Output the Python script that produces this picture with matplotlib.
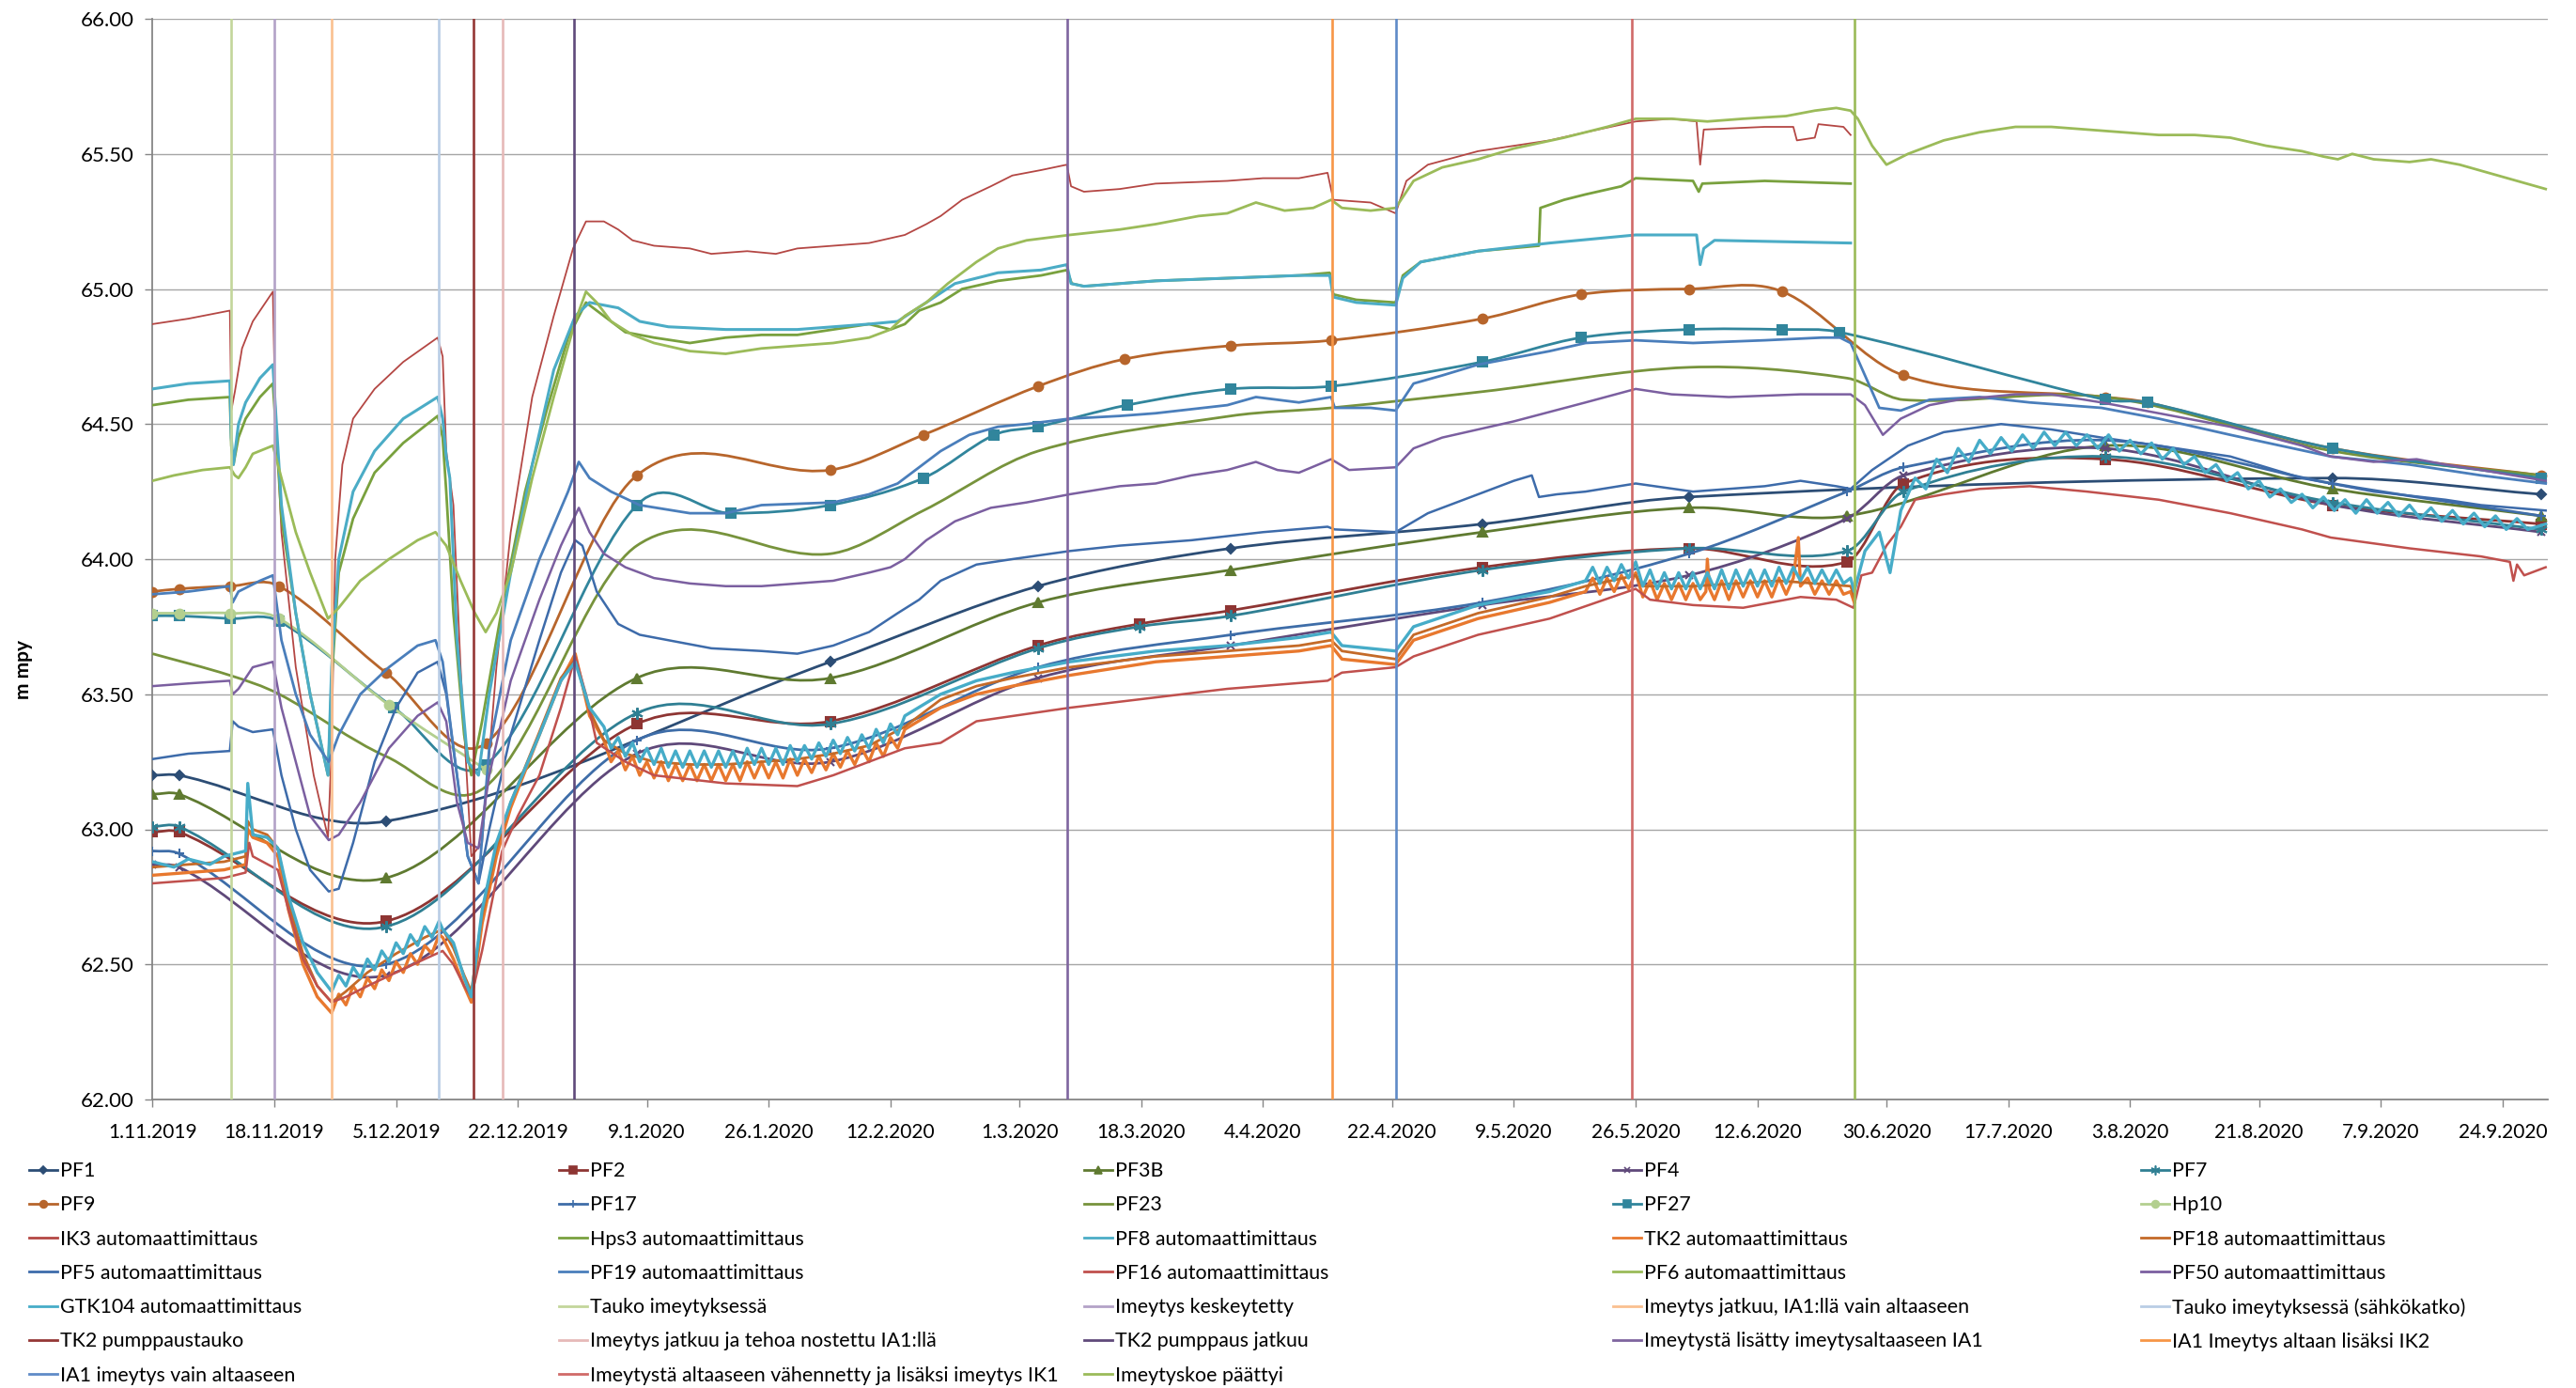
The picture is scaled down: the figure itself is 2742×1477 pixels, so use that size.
import numpy as np
import matplotlib
matplotlib.use('Agg')
import matplotlib.pyplot as plt
import matplotlib.dates as mdates
from matplotlib.path import Path
from matplotlib.patches import PathPatch
from matplotlib.lines import Line2D
from matplotlib.ticker import FuncFormatter
from datetime import datetime, timedelta

plt.rcParams['font.family'] = ['Lato', 'DejaVu Sans']

START = datetime(2019, 11, 1)

# ---------------- manual measurement series (day offset from 1.11.2019, m mpy) --------
PF1_DAYS = [0, 3.7, 32.6, 94.6, 123.6, 150.5, 185.6, 214.4, 304.3, 333.4]
PF1_VALS = [63.20, 63.20, 63.03, 63.62, 63.90, 64.04, 64.13, 64.23, 64.30, 64.24]

PF2_DAYS = [0, 3.7, 32.6, 67.6, 94.6, 123.6, 137.7, 150.5, 185.6, 214.4, 236.5, 244.4, 272.5, 304.3, 333.4]
PF2_VALS = [62.99, 62.99, 62.66, 63.39, 63.40, 63.68, 63.76, 63.81, 63.97, 64.04, 63.99, 64.28, 64.37, 64.20, 64.13]

PF3B_DAYS = [0, 3.7, 32.6, 67.6, 94.6, 123.6, 150.5, 185.6, 214.4, 236.5, 272.5, 304.3, 333.4]
PF3B_VALS = [63.13, 63.13, 62.82, 63.56, 63.56, 63.84, 63.96, 64.10, 64.19, 64.16, 64.42, 64.26, 64.16]

PF4_DAYS = [0, 3.7, 32.6, 67.6, 94.6, 123.6, 150.5, 185.6, 214.4, 236.5, 244.4, 272.5, 304.3, 333.4]
PF4_VALS = [62.87, 62.86, 62.46, 63.28, 63.25, 63.56, 63.68, 63.83, 63.94, 64.15, 64.31, 64.41, 64.20, 64.10]

PF7_DAYS = [0, 3.7, 32.6, 67.6, 94.6, 123.6, 137.7, 150.5, 185.6, 214.4, 236.5, 244.4, 272.5, 304.3, 333.4]
PF7_VALS = [63.01, 63.01, 62.64, 63.43, 63.39, 63.67, 63.75, 63.79, 63.96, 64.04, 64.03, 64.25, 64.38, 64.21, 64.11]

PF9_DAYS = [0, 3.7, 10.8, 17.7, 32.6, 46.6, 67.6, 94.6, 107.6, 123.6, 135.6, 150.5, 164.5, 185.6, 199.4,
            214.4, 227.5, 244.4, 272.5, 278.4, 304.3, 333.4]
PF9_VALS = [63.88, 63.89, 63.90, 63.90, 63.58, 63.32, 64.31, 64.33, 64.46, 64.64, 64.74, 64.79, 64.81, 64.89, 64.98,
            65.00, 64.99, 64.68, 64.60, 64.58, 64.41, 64.31]

PF17_DAYS = [0, 3.7, 32.6, 67.6, 94.6, 123.6, 150.5, 185.6, 214.4, 236.5, 244.4, 272.5, 304.3, 333.4]
PF17_VALS = [62.92, 62.91, 62.50, 63.33, 63.30, 63.60, 63.72, 63.84, 64.02, 64.25, 64.34, 64.44, 64.28, 64.16]

PF23_DAYS = [0, 10.8, 17.7, 32.6, 46.6, 67.6, 94.6, 107.6, 123.6, 150.5, 164.5, 185.6, 214.4, 236.5,
             244.4, 272.5, 304.3, 333.4]
PF23_VALS = [63.65, 63.57, 63.50, 63.27, 63.16, 64.05, 64.02, 64.18, 64.40, 64.53, 64.56, 64.62, 64.71, 64.67,
             64.59, 64.60, 64.40, 64.31]

PF27_DAYS = [0, 3.7, 10.8, 17.7, 33.7, 46.6, 67.6, 80.7, 94.6, 107.6, 117.5, 123.6, 136.0, 150.5, 164.5,
             185.6, 199.4, 214.4, 227.5, 235.5, 272.5, 278.4, 304.3, 333.4]
PF27_VALS = [63.79, 63.79, 63.78, 63.77, 63.45, 63.24, 64.20, 64.17, 64.20, 64.30, 64.46, 64.49, 64.57, 64.63, 64.64,
             64.73, 64.82, 64.85, 64.85, 64.84, 64.59, 64.58, 64.41, 64.30]

HP10_DAYS = [0, 3.7, 10.8, 17.7, 33.0, 46.6]
HP10_VALS = [63.80, 63.80, 63.80, 63.78, 63.46, 63.22]

# ---------------- automatic logger series ----------------
IK3_DAYS = [0, 5, 10.8, 11.0, 11.5, 12.5, 14, 16.8, 17.1, 18, 20, 22.5, 24.5, 25.0, 25.5, 26.5, 28, 31, 35,
            39.8, 40.5, 41, 42, 43, 44.5, 46, 48, 50, 53, 56, 58.7, 60.5, 63, 65, 67, 70, 75, 78, 83, 87, 90,
            95, 100, 105, 108, 110, 113, 117, 120, 124, 127.6, 128.2, 130, 135, 140, 150, 155, 160, 164, 164.8,
            170, 173.5, 175, 178, 185, 195, 200, 207, 212, 215.5, 216, 216.5, 225, 229, 229.5, 232, 232.5, 236, 237]
IK3_VALS = [64.87, 64.89, 64.92, 64.55, 64.62, 64.78, 64.88, 64.99, 64.60, 64.10, 63.60, 63.20, 62.97, 63.30, 64.00,
            64.35, 64.52, 64.63, 64.73, 64.82, 64.75, 64.40, 64.20, 63.60, 62.90, 62.95, 63.60, 64.10, 64.60,
            64.90, 65.15, 65.25, 65.25, 65.22, 65.18, 65.16, 65.15, 65.13, 65.14, 65.13, 65.15, 65.16, 65.17,
            65.20, 65.24, 65.27, 65.33, 65.38, 65.42, 65.44, 65.46, 65.38, 65.36, 65.37, 65.39, 65.40, 65.41,
            65.41, 65.43, 65.33, 65.32, 65.28, 65.40, 65.46, 65.51, 65.55, 65.58, 65.62, 65.63, 65.62, 65.46,
            65.59, 65.60, 65.60, 65.55, 65.56, 65.61, 65.60, 65.57]

HPS3_DAYS = [0, 5, 10.8, 11.0, 11.3, 12, 13, 15, 16.8, 17.3, 18, 20, 22, 24.5, 25, 26, 28, 31, 35, 39.8, 40.5,
             41, 42, 43.5, 44.5, 46, 49, 52, 55, 58, 60.5, 63, 66, 70, 75, 80, 85, 90, 95, 100, 103, 105, 107,
             110, 113, 118, 124, 127.6, 128.3, 130, 140, 150, 160, 164.3, 164.8, 168, 173.5, 174.5, 177, 185,
             193.5, 193.7, 197, 200, 205, 207, 215, 215.8, 216.3, 225, 237]
HPS3_VALS = [64.57, 64.59, 64.60, 64.42, 64.35, 64.45, 64.52, 64.60, 64.65, 64.45, 64.15, 63.80, 63.50, 63.20,
             63.55, 63.95, 64.15, 64.32, 64.43, 64.53, 64.45, 64.25, 63.80, 63.35, 63.20, 63.40, 63.85, 64.25,
             64.55, 64.82, 64.95, 64.90, 64.84, 64.82, 64.80, 64.82, 64.83, 64.83, 64.85, 64.87, 64.85, 64.87,
             64.92, 64.95, 65.00, 65.03, 65.05, 65.07, 65.02, 65.01, 65.03, 65.04, 65.05, 65.06, 64.98, 64.96,
             64.95, 65.05, 65.10, 65.14, 65.16, 65.30, 65.33, 65.35, 65.38, 65.41, 65.40, 65.36, 65.39, 65.40,
             65.39]

PF8_DAYS = [0, 5, 10.8, 11.0, 11.3, 12, 13, 15, 16.8, 17.3, 18, 20, 22, 24.5, 25, 26, 28, 31, 35, 39.8, 40.5,
            41, 41.5, 42.5, 44, 45.5, 47, 50, 53, 56, 59, 61, 65, 68, 72, 80, 90, 95, 100, 104, 108, 112, 118,
            124, 127.6, 128.2, 130, 140, 150, 160, 164.3, 164.8, 168, 173.5, 174.5, 177, 185, 195, 207, 215.5,
            216, 216.5, 218, 237]
PF8_VALS = [64.63, 64.65, 64.66, 64.45, 64.35, 64.50, 64.58, 64.67, 64.72, 64.50, 64.20, 63.80, 63.50, 63.20,
            63.60, 64.00, 64.25, 64.40, 64.52, 64.60, 64.52, 64.38, 64.30, 63.70, 63.25, 63.20, 63.50, 63.95,
            64.35, 64.70, 64.90, 64.95, 64.93, 64.88, 64.86, 64.85, 64.85, 64.86, 64.87, 64.88, 64.95, 65.02,
            65.06, 65.07, 65.09, 65.02, 65.01, 65.03, 65.04, 65.05, 65.05, 64.97, 64.95, 64.94, 65.04, 65.10,
            65.14, 65.17, 65.20, 65.20, 65.09, 65.15, 65.18, 65.17]

PF6_DAYS = [0, 3, 7, 10.8, 11.5, 12, 13, 14, 16.8, 18, 20, 22, 24.5, 26, 29, 33, 37, 39.5, 41, 43, 45, 46.5,
            48, 50, 53, 56, 59, 60.5, 62, 64, 67, 70, 75, 80, 85, 90, 95, 100, 103, 105, 108, 111, 115, 118,
            122, 128, 135, 140, 146, 150, 154, 158, 162, 164.5, 166, 170, 173.5, 176, 180, 185, 190, 197, 203,
            207, 212, 217, 222, 228, 232, 235, 237, 238, 240, 242, 245, 250, 255, 260, 265, 270, 275, 280, 285,
            290, 295, 300, 303, 305, 307, 310, 315, 318, 322, 326, 330, 334]
PF6_VALS = [64.29, 64.31, 64.33, 64.34, 64.31, 64.30, 64.34, 64.39, 64.42, 64.30, 64.10, 63.95, 63.78, 63.82,
            63.92, 64.00, 64.07, 64.10, 64.05, 63.92, 63.80, 63.73, 63.80, 63.95, 64.30, 64.60, 64.88, 64.99,
            64.95, 64.88, 64.83, 64.80, 64.77, 64.76, 64.78, 64.79, 64.80, 64.82, 64.85, 64.90, 64.95, 65.02,
            65.10, 65.15, 65.18, 65.20, 65.22, 65.24, 65.27, 65.28, 65.32, 65.29, 65.30, 65.33, 65.30, 65.29,
            65.30, 65.40, 65.45, 65.48, 65.52, 65.56, 65.60, 65.63, 65.63, 65.62, 65.63, 65.64, 65.66, 65.67,
            65.66, 65.63, 65.53, 65.46, 65.50, 65.55, 65.58, 65.60, 65.60, 65.59, 65.58, 65.57, 65.57, 65.56,
            65.53, 65.51, 65.49, 65.48, 65.50, 65.48, 65.47, 65.48, 65.46, 65.43, 65.40, 65.37]

PF19_DAYS = [0, 5, 10.8, 11.2, 12, 15, 16.8, 18, 20, 22, 24.6, 26, 29, 33, 37, 39.5, 40.5, 42, 44, 45.5, 47,
             50, 54, 58, 59.5, 61, 64, 68, 75, 80, 85, 95, 100, 104, 107, 110, 114, 118, 122, 128, 135, 140,
             150, 154, 160, 164.5, 165, 170, 173.5, 176, 180, 185, 195, 200, 207, 215, 225, 233, 235.5, 237,
             239, 241, 244, 248, 255, 262, 272, 280, 290, 304, 315, 325, 334]
PF19_VALS = [63.87, 63.88, 63.90, 63.84, 63.88, 63.92, 63.94, 63.70, 63.50, 63.35, 63.25, 63.35, 63.50, 63.60,
             63.68, 63.70, 63.62, 63.30, 62.90, 62.80, 63.30, 63.70, 64.00, 64.25, 64.36, 64.30, 64.25, 64.20,
             64.17, 64.17, 64.20, 64.21, 64.24, 64.28, 64.34, 64.40, 64.46, 64.49, 64.50, 64.52, 64.53, 64.54,
             64.57, 64.60, 64.58, 64.60, 64.56, 64.56, 64.55, 64.65, 64.68, 64.72, 64.77, 64.80, 64.81, 64.80,
             64.81, 64.82, 64.82, 64.80, 64.68, 64.56, 64.55, 64.59, 64.60, 64.58, 64.56, 64.52, 64.46, 64.38,
             64.35, 64.31, 64.28]

PF5_DAYS = [0, 5, 10.8, 11.2, 12, 14, 16.8, 18, 20, 22, 24.6, 26, 28, 31, 34, 37, 39.8, 41, 42.5, 44, 45.5,
            47, 50, 54, 57, 59, 60, 62, 65, 68, 72, 78, 85, 90, 95, 100, 104, 107, 110, 115, 120, 128, 135,
            145, 155, 164, 165, 173.5, 178, 185, 190, 192.5, 193.5, 196, 200, 207, 215, 225, 230, 235, 237,
            240, 245, 250, 258, 265, 272, 280, 290, 300, 304, 310, 320, 325, 334]
PF5_VALS = [63.26, 63.28, 63.29, 63.40, 63.38, 63.36, 63.37, 63.20, 63.00, 62.85, 62.77, 62.78, 62.95, 63.25,
            63.45, 63.58, 63.62, 63.50, 63.20, 62.90, 62.80, 63.00, 63.35, 63.70, 63.95, 64.07, 64.05, 63.88,
            63.76, 63.72, 63.70, 63.67, 63.66, 63.65, 63.68, 63.73, 63.80, 63.85, 63.92, 63.98, 64.00, 64.03,
            64.05, 64.07, 64.10, 64.12, 64.11, 64.10, 64.17, 64.24, 64.29, 64.31, 64.23, 64.24, 64.25, 64.28,
            64.25, 64.27, 64.29, 64.27, 64.26, 64.33, 64.42, 64.47, 64.50, 64.48, 64.45, 64.42, 64.38, 64.30,
            64.28, 64.25, 64.22, 64.20, 64.18]

PF50_DAYS = [0, 5, 10.8, 11.2, 12, 14, 16.8, 18, 20, 22, 24.6, 26, 29, 33, 37, 39.8, 41, 42.5, 44, 45.5, 47,
             50, 54, 57, 59.5, 61, 63, 66, 70, 75, 80, 85, 90, 95, 100, 103, 105, 108, 112, 117, 122, 128, 135,
             140, 145, 150, 154, 157, 160, 164.5, 167, 173.5, 176, 180, 190, 200, 207, 212, 220, 230, 237, 239,
             241.5, 244, 248, 252, 260, 265, 272, 280, 290, 300, 304, 310, 316, 320, 325, 334]
PF50_VALS = [63.53, 63.54, 63.55, 63.50, 63.52, 63.60, 63.62, 63.45, 63.25, 63.05, 62.96, 62.98, 63.10, 63.30,
             63.42, 63.47, 63.40, 63.10, 62.95, 62.93, 63.20, 63.55, 63.85, 64.05, 64.19, 64.10, 64.02, 63.97,
             63.93, 63.91, 63.90, 63.90, 63.91, 63.92, 63.95, 63.97, 64.00, 64.07, 64.14, 64.19, 64.21, 64.24,
             64.27, 64.28, 64.31, 64.33, 64.36, 64.33, 64.32, 64.37, 64.33, 64.34, 64.41, 64.45, 64.51, 64.58,
             64.63, 64.61, 64.60, 64.61, 64.61, 64.57, 64.46, 64.52, 64.57, 64.59, 64.61, 64.61, 64.58, 64.54,
             64.49, 64.42, 64.38, 64.36, 64.37, 64.35, 64.33, 64.29]

GTK104_DAYS = [0, 3, 5, 8, 10, 13, 13.3, 14, 16, 17.5, 19, 21, 23, 25,
               26, 27, 28, 29, 30, 31, 32, 33, 34, 35, 36, 37, 38, 39, 40, 40.5, 42, 43.5, 44.5, 46, 48,
               50, 54, 57, 59, 61,
               63, 64, 65, 66, 67, 68, 69, 70, 71, 72, 73, 74, 75, 76, 77, 78, 79, 80, 81, 82, 83, 84, 85, 86,
               87, 88, 89, 90, 91, 92, 93, 94, 95, 96, 97, 98, 99, 100, 101, 102, 103, 104, 105,
               110, 115, 120, 128, 140, 150, 160, 164.5, 166, 173.5, 176, 185, 195,
               200, 201, 202, 203, 204, 205, 206, 207, 208, 209, 210, 211, 212, 213, 214, 215, 216, 217, 218,
               219, 220, 221, 222, 223, 224, 225, 226, 227, 228, 229, 230, 231, 232, 233, 234, 235, 236, 237,
               237.5, 239, 241, 242.5, 244,
               246, 247.5, 249, 250.5, 252, 253.5, 255, 256.5, 258, 259.5, 261, 262.5, 264, 265.5, 267, 268.5,
               270, 271.5, 273, 274.5, 276, 277.5, 279, 280.5, 282, 283.5, 285, 286.5, 288, 289.5, 291, 292.5,
               294, 295.5, 297, 298.5, 300, 301.5, 303, 304.5, 306, 307.5, 309, 310.5, 312, 313.5, 315, 316.5,
               318, 319.5, 321, 322.5, 324, 325.5, 327, 328.5, 330, 331.5, 334]
GTK104_VALS = [62.88, 62.86, 62.89, 62.87, 62.90, 62.92, 63.17, 62.98, 62.97, 62.93, 62.75, 62.58, 62.47, 62.40,
               62.46, 62.42, 62.49, 62.45, 62.52, 62.48, 62.55, 62.51, 62.58, 62.54, 62.61, 62.57, 62.64, 62.60,
               62.66, 62.63, 62.58, 62.45, 62.38, 62.70, 62.95,
               63.10, 63.35, 63.55, 63.62, 63.45,
               63.38, 63.30, 63.34, 63.27, 63.32, 63.25, 63.30, 63.24, 63.30, 63.23, 63.29, 63.23, 63.29, 63.23,
               63.29, 63.23, 63.29, 63.23, 63.29, 63.23, 63.30, 63.24, 63.30, 63.24, 63.30, 63.24, 63.31, 63.25,
               63.31, 63.26, 63.32, 63.27, 63.33, 63.28, 63.34, 63.29, 63.35, 63.30, 63.37, 63.32, 63.39, 63.35,
               63.42,
               63.50, 63.55, 63.58, 63.62, 63.66, 63.68, 63.71, 63.73, 63.68, 63.66, 63.75, 63.83, 63.88,
               63.92, 63.97, 63.91, 63.97, 63.92, 63.98, 63.93, 63.99, 63.90, 63.96, 63.89, 63.95, 63.89, 63.95,
               63.89, 63.95, 63.89, 63.95, 63.89, 63.96, 63.89, 63.96, 63.90, 63.96, 63.90, 63.96, 63.90, 63.97,
               63.91, 63.97, 63.92, 63.97, 63.91, 63.96, 63.91, 63.96, 63.91, 63.93,
               63.88, 64.03, 64.10, 63.95, 64.18,
               64.30, 64.26, 64.37, 64.32, 64.41, 64.36, 64.44, 64.39, 64.45, 64.40, 64.46, 64.41, 64.47, 64.42,
               64.47, 64.42, 64.46, 64.41, 64.46, 64.40, 64.44, 64.39, 64.43, 64.37, 64.41, 64.35, 64.38, 64.32,
               64.35, 64.29, 64.32, 64.26, 64.29, 64.23, 64.26, 64.21, 64.24, 64.19, 64.23, 64.18, 64.22, 64.17,
               64.22, 64.17, 64.21, 64.16, 64.20, 64.15, 64.19, 64.14, 64.18, 64.13, 64.17, 64.12, 64.16, 64.11,
               64.15, 64.11, 64.13]

TK2_DAYS = [0, 10, 13, 13.3, 14, 16, 17.5, 19, 21, 23, 25,
            26, 27, 28, 29, 30, 31, 32, 33, 34, 35, 36, 37, 38, 39, 40, 40.5, 42, 43.5, 44.5, 46, 48, 50,
            54, 57, 59, 61,
            63, 64, 65, 66, 67, 68, 69, 70, 71, 72, 73, 74, 75, 76, 77, 78, 79, 80, 81, 82, 83, 84, 85, 86,
            87, 88, 89, 90, 91, 92, 93, 94, 95, 96, 97, 98, 99, 100, 101, 102, 103, 104, 105,
            110, 115, 120, 128, 140, 150, 160, 164.5, 166, 173.5, 176, 185, 195,
            200, 201, 202, 203, 204, 205, 206, 207, 208, 209, 210, 211, 212, 213, 214, 215, 216, 216.8, 217.0,
            217.3, 218, 219, 220, 221, 222, 223, 224, 225, 226, 227, 228, 229, 229.7, 230, 231, 232, 233, 234,
            235, 236, 237, 237.5]
TK2_VALS = [62.83, 62.85, 62.87, 63.00, 62.97, 62.95, 62.90, 62.70, 62.50, 62.38, 62.32,
            62.39, 62.35, 62.42, 62.38, 62.45, 62.41, 62.48, 62.44, 62.51, 62.47, 62.54, 62.50, 62.57, 62.54,
            62.61, 62.60, 62.52, 62.42, 62.36, 62.65, 62.90, 63.08,
            63.35, 63.55, 63.65, 63.42,
            63.33, 63.25, 63.29, 63.22, 63.27, 63.20, 63.25, 63.19, 63.25, 63.18, 63.24, 63.18, 63.24, 63.18,
            63.24, 63.18, 63.24, 63.18, 63.24, 63.18, 63.25, 63.19, 63.25, 63.19, 63.25, 63.19, 63.26, 63.20,
            63.26, 63.21, 63.27, 63.22, 63.28, 63.23, 63.29, 63.24, 63.30, 63.25, 63.32, 63.27, 63.34, 63.30,
            63.37,
            63.45, 63.50, 63.53, 63.57, 63.62, 63.64, 63.66, 63.68, 63.63, 63.61, 63.70, 63.78, 63.84,
            63.88, 63.93, 63.87, 63.93, 63.88, 63.94, 63.89, 63.95, 63.86, 63.92, 63.85, 63.91, 63.85, 63.91,
            63.85, 63.91, 63.85, 63.88, 64.00, 63.89, 63.85, 63.92, 63.85, 63.92, 63.86, 63.92, 63.86, 63.92,
            63.86, 63.93, 63.87, 63.93, 64.08, 63.90, 63.93, 63.87, 63.92, 63.87, 63.92, 63.87, 63.88, 63.84]

PF18_DAYS = [0, 10, 13, 13.3, 14, 16, 17.5, 19, 21, 23, 25, 27, 30, 34, 38, 40.5, 42, 43.5, 44.5, 46, 48, 50,
             54, 57, 59, 61, 63, 66, 70, 75, 80, 85, 90, 95, 100, 105, 110, 115, 120, 128, 140, 150, 160, 164.5,
             166, 173.5, 176, 185, 195, 200, 207, 208, 215, 227, 237, 237.5]
PF18_VALS = [62.86, 62.88, 62.90, 63.03, 63.00, 62.98, 62.93, 62.73, 62.54, 62.42, 62.36, 62.40, 62.47, 62.54,
             62.60, 62.63, 62.56, 62.46, 62.40, 62.68, 62.93, 63.10, 63.36, 63.56, 63.63, 63.44, 63.33, 63.28,
             63.25, 63.24, 63.24, 63.25, 63.26, 63.28, 63.31, 63.38, 63.48, 63.53, 63.56, 63.60, 63.64, 63.66,
             63.68, 63.70, 63.66, 63.63, 63.72, 63.80, 63.86, 63.90, 63.94, 63.90, 63.90, 63.92, 63.90, 63.86]

PF16_DAYS = [0, 10, 13, 13.5, 14, 17.5, 19, 21, 23, 25, 27, 30, 34, 38, 40.5, 42, 43.5, 44.5, 46, 48.8, 51, 54,
             57, 59, 60.5, 62, 66, 70, 80, 90, 95, 100, 105, 110, 115, 128, 150, 164, 166, 173.5, 176, 185, 195,
             207, 209, 215, 222, 230, 235, 237.4, 238.5, 240, 242, 244, 246, 250, 255, 262, 270, 280, 290, 300,
             304, 315, 325, 329, 329.5, 330, 331, 334]
PF16_VALS = [62.80, 62.82, 62.84, 62.95, 62.90, 62.85, 62.70, 62.52, 62.42, 62.36, 62.38, 62.42, 62.47, 62.52,
             62.55, 62.50, 62.42, 62.38, 62.55, 62.92, 63.05, 63.20, 63.45, 63.64, 63.50, 63.32, 63.25, 63.20,
             63.17, 63.16, 63.20, 63.25, 63.30, 63.32, 63.40, 63.45, 63.52, 63.55, 63.58, 63.60, 63.64, 63.72,
             63.78, 63.89, 63.85, 63.83, 63.82, 63.86, 63.85, 63.82, 63.94, 63.95, 64.05, 64.12, 64.22, 64.24,
             64.26, 64.27, 64.25, 64.22, 64.17, 64.11, 64.08, 64.04, 64.01, 63.99, 63.92, 63.98, 63.94, 63.97]

# ---------------- event lines (day offset) ----------------
EVENT_NAMES = ["Tauko imeytyksessä", "Imeytys keskeytetty", "Imeytys jatkuu, IA1:llä vain altaaseen",
               "Tauko imeytyksessä (sähkökatko)", "TK2 pumppaustauko", "Imeytys jatkuu ja tehoa nostettu IA1:llä",
               "TK2 pumppaus jatkuu", "Imeytystä lisätty imeytysaltaaseen IA1", "IA1 Imeytys altaan lisäksi IK2",
               "IA1 imeytys vain altaaseen", "Imeytystä altaaseen vähennetty ja lisäksi imeytys IK1",
               "Imeytyskoe päättyi"]
EVENT_DAYS = [11.0, 17.0, 25.0, 39.9, 44.8, 48.9, 58.8, 127.7, 164.6, 173.5, 206.5, 237.5]

X_TICK_LABELS = ["1.11.2019", "18.11.2019", "5.12.2019", "22.12.2019", "9.1.2020", "26.1.2020", "12.2.2020",
                 "1.3.2020", "18.3.2020", "4.4.2020", "22.4.2020", "9.5.2020", "26.5.2020", "12.6.2020",
                 "30.6.2020", "17.7.2020", "3.8.2020", "21.8.2020", "7.9.2020", "24.9.2020"]
Y_TICKS = [62.0, 62.5, 63.0, 63.5, 64.0, 64.5, 65.0, 65.5, 66.0]

# ---------------- styles ----------------
MANUAL = [  # name, days, vals, color, marker, msize
    ("PF1", PF1_DAYS, PF1_VALS, '#2C4D75', 'D', 5),
    ("PF2", PF2_DAYS, PF2_VALS, '#8E3533', 's', 7),
    ("PF3B", PF3B_DAYS, PF3B_VALS, '#5F7A30', '^', 7),
    ("PF4", PF4_DAYS, PF4_VALS, '#5F497A', 'x', 6),
    ("PF7", PF7_DAYS, PF7_VALS, '#2F7F93', (6, 2, 0), 9),
    ("PF9", PF9_DAYS, PF9_VALS, '#B7652B', 'o', 7),
    ("PF17", PF17_DAYS, PF17_VALS, '#3E6DA8', '+', 7),
    ("PF23", PF23_DAYS, PF23_VALS, '#77933C', None, 0),
    ("PF27", PF27_DAYS, PF27_VALS, '#31859C', 's', 7),
    ("Hp10", HP10_DAYS, HP10_VALS, '#B3CF8F', 'o', 7),
]
AUTO = [  # name, days, vals, color, lw
    ("IK3 automaattimittaus", IK3_DAYS, IK3_VALS, '#B44744', 1.3),
    ("Hps3 automaattimittaus", HPS3_DAYS, HPS3_VALS, '#79A13E', 2.0),
    ("PF8 automaattimittaus", PF8_DAYS, PF8_VALS, '#4BACC6', 2.2),
    ("TK2 automaattimittaus", TK2_DAYS, TK2_VALS, '#E8782E', 2.4),
    ("PF18 automaattimittaus", PF18_DAYS, PF18_VALS, '#C46A28', 2.0),
    ("PF5 automaattimittaus", PF5_DAYS, PF5_VALS, '#3D6BAA', 1.8),
    ("PF19 automaattimittaus", PF19_DAYS, PF19_VALS, '#4A7EBB', 2.0),
    ("PF16 automaattimittaus", PF16_DAYS, PF16_VALS, '#C0504D', 1.8),
    ("PF6 automaattimittaus", PF6_DAYS, PF6_VALS, '#9BBB59', 2.0),
    ("PF50 automaattimittaus", PF50_DAYS, PF50_VALS, '#7B5FA0', 1.8),
    ("GTK104 automaattimittaus", GTK104_DAYS, GTK104_VALS, '#46ACC8', 2.4),
]
EVENT_COLORS = ['#C3D69B', '#B3A2C7', '#FAC090', '#B9CDE5', '#953735', '#E6B9B8', '#604A7B', '#7F659F',
                '#F79646', '#5F8BC8', '#D06A68', '#9BBB59']

LEGEND_ORDER = ["PF1", "PF2", "PF3B", "PF4", "PF7",
                "PF9", "PF17", "PF23", "PF27", "Hp10",
                "IK3 automaattimittaus", "Hps3 automaattimittaus", "PF8 automaattimittaus",
                "TK2 automaattimittaus", "PF18 automaattimittaus",
                "PF5 automaattimittaus", "PF19 automaattimittaus", "PF16 automaattimittaus",
                "PF6 automaattimittaus", "PF50 automaattimittaus",
                "GTK104 automaattimittaus", "Tauko imeytyksessä", "Imeytys keskeytetty",
                "Imeytys jatkuu, IA1:llä vain altaaseen", "Tauko imeytyksessä (sähkökatko)",
                "TK2 pumppaustauko", "Imeytys jatkuu ja tehoa nostettu IA1:llä", "TK2 pumppaus jatkuu",
                "Imeytystä lisätty imeytysaltaaseen IA1", "IA1 Imeytys altaan lisäksi IK2",
                "IA1 imeytys vain altaaseen", "Imeytystä altaaseen vähennetty ja lisäksi imeytys IK1",
                "Imeytyskoe päättyi"]


def to_dates(days):
    return [START + timedelta(days=float(d)) for d in days]


def smooth_path(xs, ys):
    """Excel-like smoothed line: cubic Bezier segments through the data points."""
    xs = np.asarray(xs, float)
    ys = np.asarray(ys, float)
    n = len(xs)
    slopes = np.zeros(n)
    for i in range(n):
        if i == 0:
            slopes[i] = (ys[1] - ys[0]) / (xs[1] - xs[0])
        elif i == n - 1:
            slopes[i] = (ys[-1] - ys[-2]) / (xs[-1] - xs[-2])
        else:
            slopes[i] = (ys[i + 1] - ys[i - 1]) / (xs[i + 1] - xs[i - 1])
    verts = [(xs[0], ys[0])]
    codes = [Path.MOVETO]
    for i in range(n - 1):
        h = xs[i + 1] - xs[i]
        verts += [(xs[i] + h / 3, ys[i] + slopes[i] * h / 3),
                  (xs[i + 1] - h / 3, ys[i + 1] - slopes[i + 1] * h / 3),
                  (xs[i + 1], ys[i + 1])]
        codes += [Path.CURVE4] * 3
    return Path(verts, codes)


fig = plt.figure(figsize=(27.42, 14.77), dpi=100)
ax = fig.add_axes([162.3 / 2742, 1 - 1170 / 1477, (2712 - 162.3) / 2742, (1170 - 20) / 1477])

handles = {}
z = 3
for name, days, vals, color, marker, ms in MANUAL:
    d = to_dates(days)
    ax.plot(d, vals, linestyle='none', marker=None)
    xn = mdates.date2num(d)
    patch = PathPatch(smooth_path(xn, vals), fill=False, edgecolor=color, lw=2.0, zorder=z)
    ax.add_patch(patch)
    if marker is not None:
        ax.plot(d, vals, linestyle='none', marker=marker, color=color, markersize=ms,
                markeredgewidth=1.5, zorder=z + 0.1)
    handles[name] = Line2D([], [], color=color, lw=2.0, marker=marker, markersize=ms * 0.8,
                           markeredgewidth=1.2)
    z += 0.2

for name, days, vals, color, lw in AUTO:
    ax.plot(to_dates(days), vals, color=color, lw=lw, zorder=z)
    handles[name] = Line2D([], [], color=color, lw=2.0)
    z += 0.2

for name, dd, color in zip(EVENT_NAMES, EVENT_DAYS, EVENT_COLORS):
    ax.axvline(START + timedelta(days=dd), color=color, lw=1.9, zorder=z)
    handles[name] = Line2D([], [], color=color, lw=2.0)
    z += 0.1

# axes
ax.set_ylim(62.0, 66.0)
ax.set_xlim(START, START + timedelta(days=334.3))
ax.set_yticks(Y_TICKS)
ax.yaxis.set_major_formatter(FuncFormatter(lambda v, p: f"{v:.2f}"))
tick_dates = [datetime.strptime(s, "%d.%m.%Y") for s in X_TICK_LABELS]
ax.set_xticks(tick_dates)
ax.set_xticklabels(X_TICK_LABELS)
ax.grid(axis='y', color='#A6A6A6', lw=1.0, zorder=0)
ax.set_axisbelow(True)
for s in ['top', 'right']:
    ax.spines[s].set_visible(False)
for s in ['left', 'bottom']:
    ax.spines[s].set_color('#868686')
    ax.spines[s].set_linewidth(1.3)
ax.tick_params(axis='y', length=6, width=1.0, color='#868686', labelsize=16, pad=8)
ax.tick_params(axis='x', length=6, width=1.0, color='#868686', labelsize=15, pad=12)

fig.text(25 / 2742, 1 - 713 / 1477, "m mpy", rotation=90, fontsize=15, fontweight='bold',
         ha='center', va='center')

# legend: 5 columns, Excel-style row-major order
col_x = [31, 595, 1154, 1717, 2279]
ncol = 5
for c in range(ncol):
    names = [LEGEND_ORDER[i] for i in range(c, len(LEGEND_ORDER), ncol)]
    fig.legend([handles[n] for n in names], names, loc='upper left',
               bbox_to_anchor=(col_x[c] / 2742, 1 - 1236 / 1477), frameon=False,
               fontsize=15.4, handlelength=1.4, handletextpad=0.15, labelspacing=0.76,
               borderpad=0, borderaxespad=0)

fig.savefig("out.png", dpi=100)
